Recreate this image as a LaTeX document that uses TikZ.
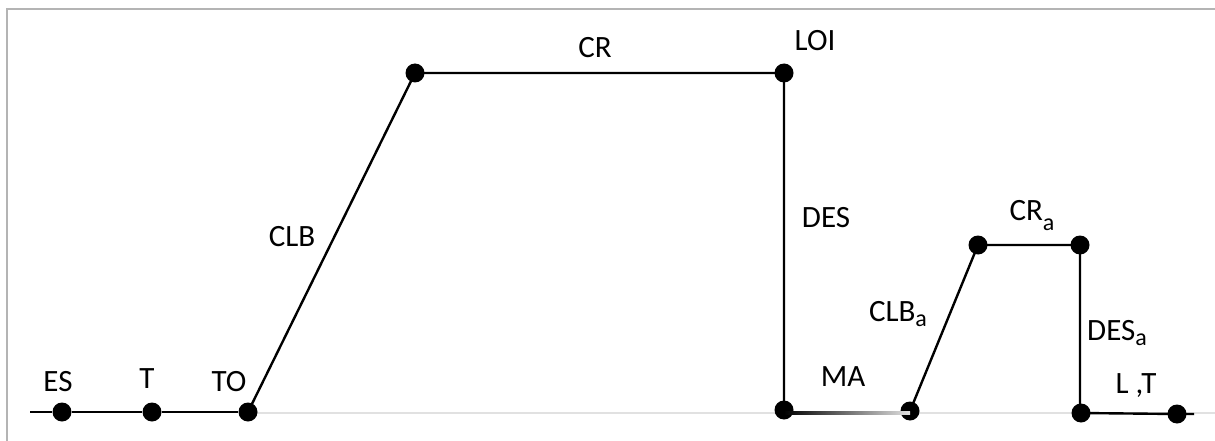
\documentclass[tikz,border=0pt]{standalone}
\usepackage{fontspec}
\setmainfont{Carlito}
\newcommand{\subA}{\raisebox{-5pt}{\fontsize{24}{24}\selectfont a}}
\begin{document}
\begin{tikzpicture}[x=1pt,y=-1pt,
  dot/.style={circle,fill=black,inner sep=0pt,minimum size=19pt},
  lbl/.style={font=\fontsize{31}{31}\selectfont,inner sep=0pt},
  seg/.style={line width=2.4pt,black},
  frame/.style={line width=2pt,color={rgb,255:red,180;green,180;blue,180}}]
\useasboundingbox (0,0) rectangle (1215,441);
% frame
\draw[frame] (7,441) -- (7,9) -- (1215,9);
% light ground line
\draw[line width=2pt,color={rgb,255:red,225;green,225;blue,225}] (248,413) -- (1215,413);
% dots
\node[dot] (es) at (62,412) {};
\node[dot] (t) at (152,412) {};
\node[dot] (to) at (248,412) {};
\node[dot] (top) at (415,73) {};
\node[dot] (loi) at (784,73) {};
\node[dot] (ma) at (784,410) {};
\node[dot] (clba) at (910,411) {};
\node[dot] (cra) at (978,245) {};
\node[dot] (desa) at (1080,245) {};
\node[dot] (lt) at (1081,413) {};
\node[dot] (end) at (1177,414) {};
\coordinate (start) at (30,412);
\coordinate (tail) at (1194,414);
% connectors
\draw[seg] (start) -- (es) -- (t) -- (to);
\draw[seg] (to.center) -- (top.center) -- (loi.center) -- (ma.center);
\shade[left color=black,right color={rgb,255:red,225;green,225;blue,225}] (784,411.8) rectangle (910,414.5);
\draw[seg] (clba.center) -- (cra.center) -- (desa.center) -- (1080,413) -- (end.center) -- (tail);
% labels
\node[lbl] (les) at (58,382) {ES};
\node[lbl] (lt1) at (147,379) {T};
\node[lbl] (lto) at (229,382) {TO};
\node[lbl] (lclb) at (292,237) {CLB};
\node[lbl] (lcr) at (595,48) {CR};
\node[lbl] (lloi) at (815,41) {LOI};
\node[lbl] (ldes) at (826,218) {DES};
\node[lbl] (lma) at (843,377) {MA};
\node[lbl] (lclba) at (898,314) {CLB\subA};
\node[lbl] (lcra) at (1032,216) {CR\raisebox{-10pt}{\fontsize{24}{24}\selectfont a}};
\node[lbl] (ldesa) at (1117,333) {DES\subA};
\node[lbl] (llt) at (1136,386) {L ,T};
\end{tikzpicture}
\end{document}
